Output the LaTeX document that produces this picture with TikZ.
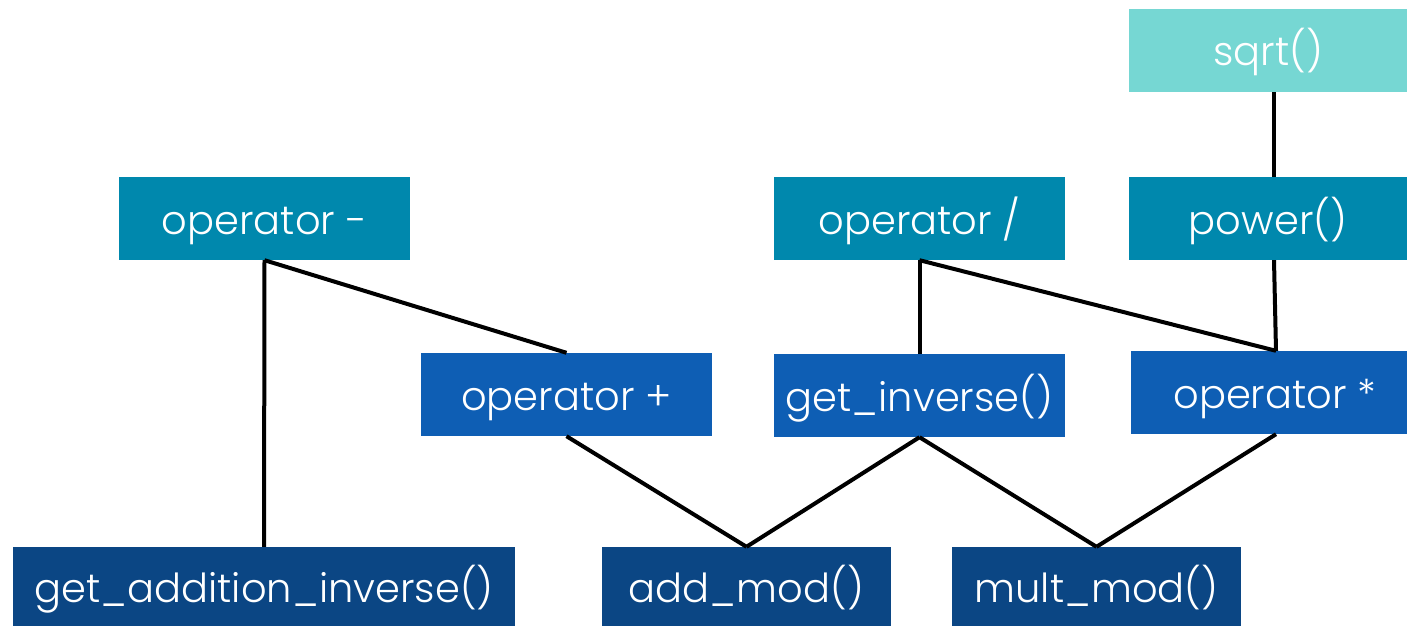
\documentclass[tikz,border=0pt]{standalone}
\usepackage{fontspec}
\setmainfont{Poppins Light}
\definecolor{cLight}{HTML}{76D7D3}
\definecolor{cTeal}{HTML}{0088AD}
\definecolor{cMid}{HTML}{0E5EB4}
\definecolor{cDark}{HTML}{0B4684}
\begin{document}
\begin{tikzpicture}[x=1pt,y=-1pt,
  fn/.style={rectangle, inner sep=0pt, text=white, text height=31pt, text depth=0pt,
    font=\fontsize{40}{43}\selectfont, anchor=center},
  wire/.style={line width=4pt, black}]
\useasboundingbox (0,0) rectangle (1407,626);
% top level
\node[fn, fill=cLight, minimum width=278, minimum height=83] (sqrt) at (1268,50.5) {sqrt()};
% second level
\node[fn, fill=cTeal, minimum width=291, minimum height=83] (opminus) at (264.5,218.5) {operator -};
\node[fn, fill=cTeal, minimum width=291, minimum height=83] (opdiv) at (919.5,218.5) {operator /};
\node[fn, fill=cTeal, minimum width=278, minimum height=83] (power) at (1268,218.5) {power()};
% third level
\node[fn, fill=cMid, minimum width=291, minimum height=83] (opplus) at (566.5,394.5) {operator +};
\node[fn, fill=cMid, minimum width=291, minimum height=83] (getinv) at (919.5,395.5) {get\_inverse()};
\node[fn, fill=cMid, minimum width=276, minimum height=83] (opmul) at (1269,392.5) {\hspace*{12pt}operator *};
% bottom level
\node[fn, fill=cDark, minimum width=502, minimum height=79] (addinv) at (264,586.5) {get\_addition\_inverse()};
\node[fn, fill=cDark, minimum width=289, minimum height=79] (addmod) at (746.5,586.5) {add\_mod()};
\node[fn, fill=cDark, minimum width=289, minimum height=79] (multmod) at (1096.5,586.5) {mult\_mod()};
% connectors
\draw[wire] ([xshift=6]sqrt.south) -- ([xshift=6]power.north);
\draw[wire] (opminus.south) -- (addinv.north);
\draw[wire] (opminus.south) -- (opplus.north);
\draw[wire] (opdiv.south) -- (getinv.north);
\draw[wire] (opdiv.south) -- ([xshift=7]opmul.north);
\draw[wire] ([xshift=6]power.south) -- ([xshift=7]opmul.north);
\draw[wire] (opplus.south) -- (addmod.north);
\draw[wire] (getinv.south) -- (addmod.north);
\draw[wire] (getinv.south) -- (multmod.north);
\draw[wire] ([xshift=7]opmul.south) -- (multmod.north);
\end{tikzpicture}
\end{document}
